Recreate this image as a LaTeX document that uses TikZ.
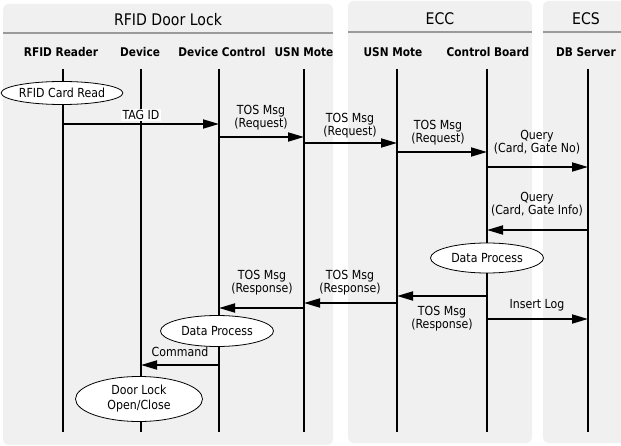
\documentclass[tikz,border=0pt]{standalone}
\usepackage{fontspec}
\setmainfont{DejaVu Sans}[FakeStretch=0.88]
\usetikzlibrary{arrows.meta,shapes.geometric}
\definecolor{panelgray}{HTML}{F0F0F0}
\definecolor{sepgray}{HTML}{9A9A9A}
\begin{document}
\begin{tikzpicture}[x=1pt,y=-1pt,
  panel/.style={fill=panelgray, draw=none, rounded corners=6pt},
  sepline/.style={draw=sepgray, line width=1.4pt},
  grouptitle/.style={font=\fontsize{16}{18}\selectfont, inner sep=0pt},
  colhead/.style={font=\bfseries\fontsize{12}{14}\selectfont, inner sep=0pt},
  life/.style={line width=1.8pt},
  msg/.style={line width=1.8pt, -{Triangle[length=16pt,width=9pt]}},
  lbl/.style={font=\fontsize{12.5}{11}\selectfont, align=center, inner sep=0pt},
  proc/.style={ellipse, draw, line width=0.8pt, fill=white, align=center,
    font=\fontsize{12.5}{15}\selectfont, inner sep=0pt}]

% canvas
\fill[white] (0,0) rectangle (621,446);
\useasboundingbox (0,0) rectangle (621,446);

% group panels
\fill[panel] (3,4) rectangle (333,445);
\fill[panel] (348,1) rectangle (532,443);
\fill[panel] (543,1) rectangle (640,443);
\draw[sepline] (3,33) -- (333,33);
\draw[sepline] (348,32) -- (532,32);
\draw[sepline] (543,32) -- (621,32);

\node[grouptitle] (gRfid) at (168,20) {RFID Door Lock};
\node[grouptitle] (gEcc) at (440,19) {ECC};
\node[grouptitle] (gEcs) at (586,19) {ECS};

% column headers
\node[colhead] (hRR) at (61,52) {RFID Reader};
\node[colhead] (hDev) at (140,52) {Device};
\node[colhead] (hDC) at (222,52) {Device Control};
\node[colhead] (hUM1) at (304,52) {USN Mote};
\node[colhead] (hUM2) at (393,52) {USN Mote};
\node[colhead] (hCB) at (488,52) {Control Board};
\node[colhead] (hDB) at (586,52) {DB Server};

% lifelines
\coordinate (rrT) at (63,69);   \coordinate (rrB) at (63,432);
\coordinate (devT) at (141,69); \coordinate (devB) at (141,432);
\coordinate (dcT) at (219,69);  \coordinate (dcB) at (219,432);
\coordinate (um1T) at (304,69); \coordinate (um1B) at (304,432);
\coordinate (um2T) at (397,69); \coordinate (um2B) at (397,432);
\coordinate (cbT) at (487,69);  \coordinate (cbB) at (487,432);
\coordinate (dbT) at (588,69);  \coordinate (dbB) at (588,432);
\foreach \l in {rr,dev,dc,um1,um2,cb,db}
  \draw[life] (\l T) -- (\l B);

% activities
\node[proc, minimum width=115pt, minimum height=23pt] (cardRead) at (62,93) {RFID Card Read};
\node[proc, minimum width=113pt, minimum height=30pt] (procCB) at (487,258) {Data Process};
\node[proc, minimum width=113pt, minimum height=31pt] (procDC) at (217,331) {Data Process};
\node[proc, minimum width=127pt, minimum height=45pt] (doorLock) at (139,399) {Door Lock\\Open/Close};

% messages
\draw[msg] (rrT |- 0,124) -- (dcT |- 0,124);
\node[lbl, fill=white, inner xsep=2pt, inner ysep=1pt] (mTag) at (141,115) {TAG ID};

\draw[msg] (dcT |- 0,137) -- (um1T |- 0,137);
\node[lbl] (mReq1) at (261,118) {TOS Msg\\(Request)};

\draw[msg] (um1T |- 0,143) -- (um2T |- 0,143);
\node[lbl] (mReq2) at (350,126) {TOS Msg\\(Request)};

\draw[msg] (um2T |- 0,152) -- (cbT |- 0,152);
\node[lbl] (mReq3) at (438,133) {TOS Msg\\(Request)};

\draw[msg] (cbT |- 0,167) -- (dbT |- 0,167);
\node[lbl] (mQry1) at (537,142) {Query\\(Card, Gate No)};

\draw[msg] (dbT |- 0,230) -- (cbT |- 0,230);
\node[lbl] (mQry2) at (537,204) {Query\\(Card, Gate Info)};

\draw[msg] (cbT |- 0,296) -- (um2T |- 0,296);
\node[lbl] (mRes3) at (442,319) {TOS Msg\\(Response)};

\draw[msg] (um2T |- 0,303) -- (um1T |- 0,303);
\node[lbl] (mRes2) at (350,283) {TOS Msg\\(Response)};

\draw[msg] (um1T |- 0,308) -- (dcT |- 0,308);
\node[lbl] (mRes1) at (262,283) {TOS Msg\\(Response)};

\draw[msg] (cbT |- 0,319) -- (dbT |- 0,319);
\node[lbl] (mLog) at (537,305) {Insert Log};

\draw[msg] (dcT |- 0,365) -- (devT |- 0,365);
\node[lbl] (mCmd) at (180,352) {Command};

\end{tikzpicture}
\end{document}
